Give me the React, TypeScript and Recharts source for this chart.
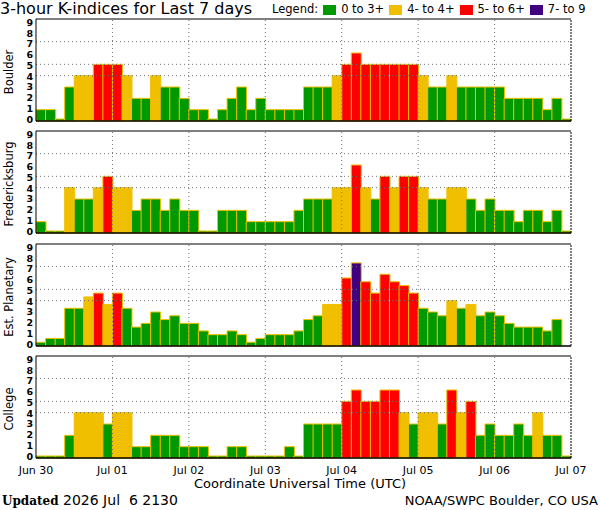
import { BarChart, Bar, Cell, XAxis, YAxis, ReferenceLine } from "recharts"

// K-index per 3-hour slot, Jun 30 00 UT .. Jul 06 21 UT (8 slots a day)
const BOULDER = [
 1, 1, 0, 3, 4, 4, 5, 5,
 5, 4, 2, 2, 4, 3, 3, 2,
 1, 1, 0, 1, 2, 3, 1, 2,
 1, 1, 1, 1, 3, 3, 3, 4,
 5, 6, 5, 5, 5, 5, 5, 5,
 4, 3, 3, 4, 3, 3, 3, 3,
 3, 2, 2, 2, 2, 1, 2, 0
]
const FREDERICKSBURG = [
 1, 0, 0, 4, 3, 3, 4, 5,
 4, 4, 2, 3, 3, 2, 3, 2,
 2, 0, 0, 2, 2, 2, 1, 1,
 1, 1, 1, 2, 3, 3, 3, 4,
 4, 6, 4, 3, 5, 4, 5, 5,
 4, 3, 3, 4, 4, 3, 2, 3,
 2, 2, 1, 2, 2, 1, 2, 0
]
const PLANETARY = [
 0.33, 0.67, 0.67, 3.33, 3.33, 4.33, 4.67, 3.67,
 4.67, 3.33, 1.67, 2, 3, 2.33, 2.67, 2,
 2, 1.33, 1, 1, 1.33, 1, 0.33, 0.67,
 1, 1, 1, 1.33, 2.33, 2.67, 3.67, 3.67,
 6, 7.33, 5.67, 4.67, 6.33, 5.67, 5.33, 4.67,
 3.33, 3, 2.67, 4, 3.33, 3.67, 2.67, 3,
 2.67, 2, 1.67, 1.67, 1.67, 1.33, 2.33, null
]
const COLLEGE = [
 0, 0, 0, 2, 4, 4, 4, 3,
 4, 4, 1, 1, 2, 2, 2, 1,
 1, 1, 0, 0, 1, 1, 0, 0,
 0, 0, 1, 0, 3, 3, 3, 3,
 5, 6, 5, 5, 6, 6, 4, 3,
 4, 4, 3, 6, 4, 5, 2, 3,
 2, 2, 3, 2, 4, 2, 2, 0
]

const STATIONS = ["Boulder", "Fredericksburg", "Est. Planetary", "College"]
const SERIES = [BOULDER, FREDERICKSBURG, PLANETARY, COLLEGE]

const DAY_TICKS = [0, 8, 16, 24, 32, 40, 48, 56]
const DAY_LABELS = ["Jun 30", "Jul 01", "Jul 02", "Jul 03", "Jul 04", "Jul 05", "Jul 06", "Jul 07"]
const K_TICKS = [0, 1, 2, 3, 4, 5, 6, 7, 8, 9]
const GRID_LEVELS = [4, 5, 7]

const GREEN = "#009900"
const YELLOW = "#f0c000"
const RED = "#ff0000"
const PURPLE = "#400080"
const GRID = "#707070"

const LEGEND = [
 { label: "0 to 3+", color: GREEN },
 { label: "4- to 4+", color: YELLOW },
 { label: "5- to 6+", color: RED },
 { label: "7- to 9", color: PURPLE }
]

const FONT = "'DejaVu Sans', sans-serif"

function kColor(v: number | null) {
 if (v == null) return "none"
 if (v >= 6.5) return PURPLE
 if (v >= 4.5) return RED
 if (v >= 3.5) return YELLOW
 return GREEN
}

// the original squeezes its 0..9 labels a little inside the frame
function KTick({ x, y, payload }: any) {
 const v = payload.value
 return (
  <text x={x} y={y - 2 + 5.5 * v / 9} textAnchor="end" dominantBaseline="central"
   fill="#000" fontSize={9.5} fontWeight="bold" fontFamily={FONT}>
   {v}
  </text>
 )
}

function Panel({ name, values, top, last }: { name: string, values: (number | null)[], top: number, last: boolean }) {

 const rows = values.map((k, slot) => ({ slot, k }))

 return (
  <div style={{ position: "absolute", left: 0, top: top - 6 }}>

   <BarChart
    width={600}
    height={last ? 136 : 114}
    data={rows}
    margin={{ top: 6, right: 29, bottom: last ? 0 : 6, left: 0 }}
    barCategoryGap={0}
    barGap={0}
   >
    <XAxis
     xAxisId="slot"
     dataKey="slot"
     type="category"
     mirror
     height={1}
     interval={0}
     tick={false}
     axisLine={false}
     tickLine={{ stroke: YELLOW }}
     tickSize={3}
    />
    <XAxis
     xAxisId="day"
     dataKey="slot"
     type="number"
     domain={[0, 56]}
     ticks={DAY_TICKS}
     interval={0}
     hide={!last}
     height={28}
     axisLine={false}
     tickLine={false}
     tickSize={0}
     tickMargin={8}
     tick={{ fill: "#000", fontSize: 11, fontFamily: FONT }}
     tickFormatter={(v) => DAY_LABELS[DAY_TICKS.indexOf(v)]}
    />
    <YAxis
     type="number"
     domain={[0, 9]}
     ticks={K_TICKS}
     interval={0}
     width={36}
     tickSize={0}
     tickMargin={3}
     tickLine={false}
     axisLine={{ stroke: "#000" }}
     tick={<KTick />}
    />

    <Bar
     xAxisId="slot"
     dataKey="k"
     stroke={YELLOW}
     strokeWidth={1}
     minPointSize={(v: any) => (v === 0 ? 2 : 0)}
     isAnimationActive={false}
    >
     {values.map((v, i) => <Cell key={i} fill={kColor(v)} />)}
    </Bar>

    {GRID_LEVELS.map(l =>
     <ReferenceLine key={"h" + l} xAxisId="day" y={l} stroke={GRID} strokeDasharray="1 3" />
    )}
    {DAY_TICKS.slice(1, -1).map(d =>
     <ReferenceLine key={"v" + d} xAxisId="day" x={d} stroke={GRID} strokeDasharray="1 3" />
    )}
    <ReferenceLine xAxisId="day" y={0} stroke="#000" strokeWidth={1.5} />
    <ReferenceLine xAxisId="day" y={9} stroke="#000" />
    <ReferenceLine xAxisId="day" x={56} stroke="#000" strokeDasharray="2 1" />
   </BarChart>

   <div style={{
    position: "absolute", left: 9, top: 6 + 53,
    transform: "translate(-50%, -50%) rotate(-90deg)",
    whiteSpace: "nowrap", fontFamily: FONT, fontSize: 11.5, lineHeight: "12px"
   }}>
    {name}
   </div>

  </div>
 )
}

export default function App() {

 return (
  <div style={{ position: "absolute", left: 0, top: 0, width: 600, height: 510, background: "#fff", color: "#000", fontFamily: FONT }}>

   <div style={{ position: "absolute", left: 0, top: -1, fontSize: 16, lineHeight: "19px", whiteSpace: "nowrap" }}>
    3-hour K-indices for Last 7 days
   </div>

   <div style={{ position: "absolute", left: 272, top: 3, display: "flex", alignItems: "center", fontSize: 11.5, lineHeight: "13px", whiteSpace: "nowrap" }}>
    <span style={{ marginRight: 5 }}>Legend:</span>
    {LEGEND.map(item =>
     <span key={item.label} style={{ display: "flex", alignItems: "center" }}>
      <span style={{ width: 13, height: 10, background: item.color, display: "inline-block", marginRight: 5 }} />
      <span style={{ marginRight: 5 }}>{item.label}</span>
     </span>
    )}
   </div>

   {STATIONS.map((name, i) =>
    <Panel key={name} name={name} values={SERIES[i]} top={19 + i * 112.4} last={i === STATIONS.length - 1} />
   )}

   <div style={{ position: "absolute", left: 0, width: 600, top: 477, textAlign: "center", fontSize: 13, lineHeight: "14px" }}>
    Coordinate Universal Time (UTC)
   </div>

   <div style={{ position: "absolute", left: 2, top: 493, fontSize: 14, lineHeight: "15px", whiteSpace: "pre" }}>
    <span style={{ fontFamily: "'DejaVu Serif', serif", fontWeight: "bold", fontSize: 12 }}>Updated</span> 2026 Jul  6 2130
   </div>

   <div style={{ position: "absolute", right: 2, top: 493, fontSize: 13, lineHeight: "15px", whiteSpace: "nowrap" }}>
    NOAA/SWPC Boulder, CO USA
   </div>

  </div>
 )
}
